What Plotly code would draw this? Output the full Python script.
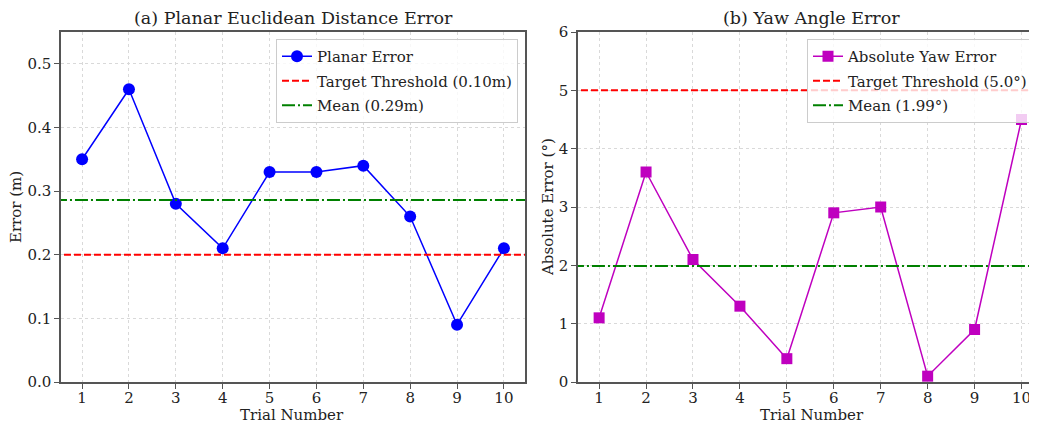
import plotly.graph_objects as go

trials = [1, 2, 3, 4, 5, 6, 7, 8, 9, 10]
planar_error = [0.35, 0.46, 0.28, 0.21, 0.33, 0.33, 0.34, 0.26, 0.09, 0.21]
yaw_error = [1.1, 3.6, 2.1, 1.3, 0.4, 2.9, 3.0, 0.1, 0.9, 4.5]
planar_threshold = 0.2
yaw_threshold = 5.0
planar_mean = sum(planar_error) / len(planar_error)
yaw_mean = sum(yaw_error) / len(yaw_error)

# page body has an 8px default margin, so the figure is offset by 8px
OFF = 8
W, H = 1037 - OFF, 424 - OFF
FONT = "DejaVu Serif"

def px_x(p):
    return (p - OFF) / W

def px_y(p):
    return 1 - (p - OFF) / H

fig = go.Figure()

xline = [0.4, 10.6]

# Left panel
fig.add_trace(go.Scatter(x=trials, y=planar_error, mode="lines+markers", name="Planar Error",
                         line=dict(color="#0000FF", width=1.5),
                         marker=dict(symbol="circle", size=12, color="#0000FF"),
                         xaxis="x", yaxis="y", legend="legend", legendgroup="a1"))
fig.add_trace(go.Scatter(x=xline, y=[planar_threshold] * 2, mode="lines",
                         name="Target Threshold (0.10m)",
                         line=dict(color="#FF0000", width=2, dash="7px,3px"),
                         xaxis="x", yaxis="y", legend="legend", legendgroup="a2"))
fig.add_trace(go.Scatter(x=xline, y=[planar_mean] * 2, mode="lines",
                         name=f"Mean ({planar_mean:.2f}m)",
                         line=dict(color="#008000", width=2, dash="13px,3px,2px,3px"),
                         xaxis="x", yaxis="y", legend="legend", legendgroup="a3"))

# Right panel
fig.add_trace(go.Scatter(x=trials, y=yaw_error, mode="lines+markers", name="Absolute Yaw Error",
                         line=dict(color="#BF00BF", width=1.5),
                         marker=dict(symbol="square", size=11, color="#BF00BF"),
                         xaxis="x2", yaxis="y2", legend="legend2", legendgroup="b1"))
fig.add_trace(go.Scatter(x=xline, y=[yaw_threshold] * 2, mode="lines",
                         name="Target Threshold (5.0°)",
                         line=dict(color="#FF0000", width=2, dash="7px,3px"),
                         xaxis="x2", yaxis="y2", legend="legend2", legendgroup="b2"))
fig.add_trace(go.Scatter(x=xline, y=[yaw_mean] * 2, mode="lines",
                         name=f"Mean ({yaw_mean:.2f}°)",
                         line=dict(color="#008000", width=2, dash="13px,3px,2px,3px"),
                         xaxis="x2", yaxis="y2", legend="legend2", legendgroup="b3"))

axis_common = dict(showline=True, linecolor="#555555", linewidth=1.5, mirror=True,
                   ticks="outside", ticklen=5, tickwidth=1.2, tickcolor="#555555",
                   showgrid=True, gridcolor="#d9d9d9", griddash="dot", gridwidth=1,
                   zeroline=False, automargin=False, ticklabeloverflow="allow",
                   tickfont=dict(family=FONT, size=15, color="#222222"))

xaxis_extra = dict(ticklabelstandoff=-4)

legend_common = dict(xanchor="right", yanchor="top", bgcolor="rgba(255,255,255,0.8)",
                     bordercolor="#cccccc", borderwidth=1, itemwidth=30,
                     font=dict(family=FONT, size=15, color="#222222"), tracegroupgap=2)

def ann(text, x, y, size, angle=0):
    return dict(text=text, x=px_x(x), y=px_y(y), xref="paper", yref="paper",
                xanchor="center", yanchor="middle", showarrow=False, textangle=angle,
                font=dict(family=FONT, size=size, color="#222222"))

fig.update_layout(
    width=W, height=H, autosize=False,
    margin=dict(l=0, r=0, t=0, b=0, pad=0, autoexpand=False),
    paper_bgcolor="white", plot_bgcolor="white",
    font=dict(family=FONT, color="#222222"),
    showlegend=True,
    xaxis=dict(domain=[px_x(61), px_x(525)], range=[0.55, 10.45],
               tickvals=trials, anchor="y", **axis_common, **xaxis_extra),
    yaxis=dict(domain=[px_y(382), px_y(32)], range=[0, 0.55],
               tickvals=[0, 0.1, 0.2, 0.3, 0.4, 0.5], ticktext=["0.0", "0.1", "0.2", "0.3", "0.4", "0.5"],
               anchor="x", **axis_common),
    xaxis2=dict(domain=[px_x(578), 1.0], range=[0.55, 10.33],
                tickvals=trials, anchor="y2", **axis_common, **xaxis_extra),
    yaxis2=dict(domain=[px_y(382), px_y(32)], range=[0, 6],
                tickvals=[0, 1, 2, 3, 4, 5, 6], anchor="x2", **axis_common),
    legend=dict(x=px_x(518), y=px_y(39), **legend_common),
    legend2=dict(x=px_x(1033), y=px_y(39), **legend_common),
    annotations=[
        ann("(a) Planar Euclidean Distance Error", 293.5, 18, 17.5),
        ann("(b) Yaw Angle Error", 811, 18, 17.5),
        ann("Trial Number", 292, 415, 15),
        ann("Trial Number", 812, 415, 15),
        ann("Error (m)", 16, 207, 15, -90),
        ann("Absolute Error (°)", 548, 207, 15, -90),
    ],
)

fig.write_html("out.html")
